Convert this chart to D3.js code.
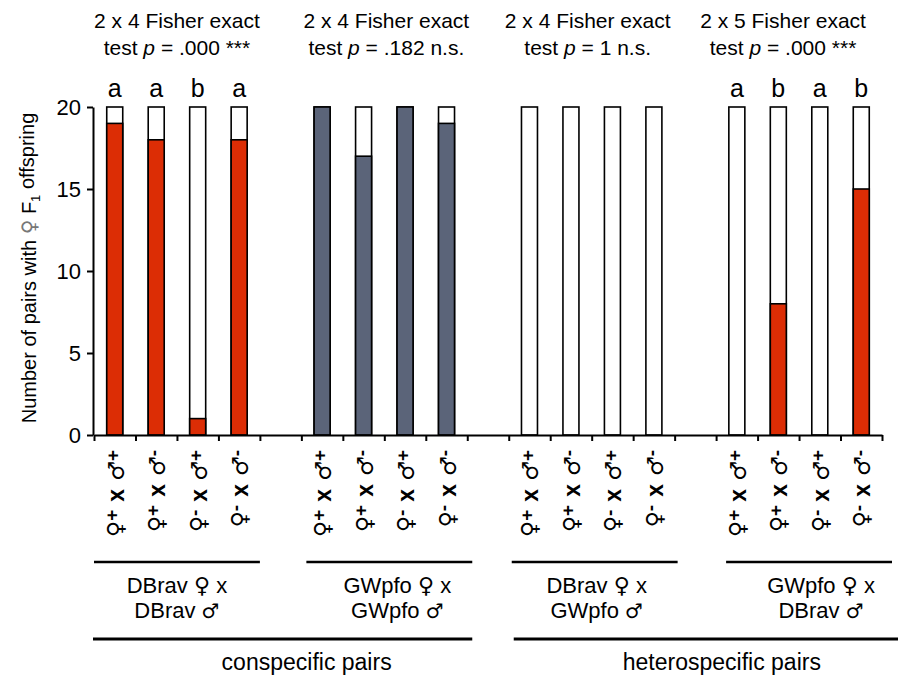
<!DOCTYPE html>
<html>
<head>
  <meta charset="utf-8">
  <title>Pairs with female F1 offspring</title>
  <script src="https://d3js.org/d3.v7.min.js"></script>
  <style>
    body { margin: 0; background: #fff; }
    text { font-family: "Liberation Sans", Arial, "DejaVu Sans", sans-serif; fill: #000; }
    .sym { font-family: "DejaVu Sans", sans-serif; font-weight: normal; }
  </style>
</head>
<body>
<script>
// data
var femaleStrain = ["DBrav", "GWpfo", "DBrav", "GWpfo"];
var maleStrain = ["DBrav", "GWpfo", "GWpfo", "DBrav"];
var testSize = ["2 x 4", "2 x 4", "2 x 4", "2 x 5"];
var testResult = ["=  .000 ***", "= .182 n.s.", "= 1 n.s.", "= .000 ***"];
var letters = [["a", "a", "b", "a"], [], [], ["a", "b", "a", "b"]];
var withFemales = [[19, 18, 1, 18], [20, 17, 20, 19], [0, 0, 0, 0], [0, 8, 0, 15]];
var pairsTested = 20;
var femaleType = ["+", "+", "-", "-"];
var maleType = ["+", "-", "+", "-"];
var groupColor = ["#dc2d05", "#5b6479", "#fff", "#dc2d05"];
var yTicks = [0, 5, 10, 15, 20];

var width = 898, height = 678;
var svg = d3.select("body").append("svg").attr("width", width).attr("height", height);

// 19 slots: 4 bars + 1 gap per group
var x = d3.scaleLinear().domain([0, 19]).range([94, 882]);
var y = d3.scaleLinear().domain([0, 20]).range([435, 107]);
var slot = function(g, i) { return g * 5 + i; };

// y axis
var yAxis = svg.append("g").attr("transform", "translate(93,0)")
  .call(d3.axisLeft(y).tickValues(yTicks).tickSize(6).tickSizeOuter(0).tickPadding(6));
yAxis.selectAll("text").style("font-size", "22px");
yAxis.select(".domain").attr("stroke-width", 2);
yAxis.selectAll(".tick line").attr("stroke-width", 2);

// bars: white frame for all pairs, coloured part for pairs with female offspring
withFemales.forEach(function(vals, g) {
  vals.forEach(function(v, i) {
    var cx = x(slot(g, i) + 0.5);
    svg.append("rect").attr("x", cx - 8).attr("width", 16)
      .attr("y", y(pairsTested)).attr("height", y(0) - y(pairsTested))
      .attr("fill", "#fff").attr("stroke", "#000").attr("stroke-width", 1.6);
    if (v > 0) {
      svg.append("rect").attr("x", cx - 8).attr("width", 16)
        .attr("y", y(v)).attr("height", y(0) - y(v))
        .attr("fill", groupColor[g]).attr("stroke", "#000").attr("stroke-width", 1.6);
    }
    if (letters[g][i]) {
      svg.append("text").attr("x", cx).attr("y", 97).attr("text-anchor", "middle")
        .style("font-size", "25px").text(letters[g][i]);
    }
    // rotated cross label
    var t = svg.append("text")
      .attr("transform", "translate(" + (cx + 8) + ",450) rotate(-90)")
      .attr("text-anchor", "end").style("font-size", "22px");
    t.append("tspan").attr("class", "sym").text("\u2640");
    t.append("tspan").attr("dy", "-0.25em").style("font-weight", "bold").style("font-size", "19px").text(femaleType[i]);
    t.append("tspan").attr("dy", "0.25em").attr("dx", 8).style("font-weight", "bold").style("font-size", "23px").text("x");
    t.append("tspan").attr("dx", 8).attr("class", "sym").text("\u2642");
    t.append("tspan").attr("dy", "-0.25em").style("font-weight", "bold").style("font-size", "19px").text(maleType[i]);
  });
});

// x axis
var xAxis = svg.append("g").attr("transform", "translate(0,435)")
  .call(d3.axisBottom(x).tickValues(d3.range(0, 20)).tickFormat("").tickSize(6).tickSizeOuter(0));
xAxis.select(".domain").attr("stroke-width", 2);
xAxis.selectAll(".tick line").attr("stroke-width", 2);

// test titles and group labels
var titleShift = [0, 2, -4, -16];
var labelShift = [0, 8, 2, 12];
var lineShift = [0, 5, 3, 10];
testSize.forEach(function(s, g) {
  var gx = x(slot(g, 2));
  var tt = svg.append("text").attr("text-anchor", "middle").style("font-size", "21px");
  tt.append("tspan").attr("x", gx + titleShift[g]).attr("y", 28).text(s + " Fisher exact");
  var l2 = tt.append("tspan").attr("x", gx + titleShift[g]).attr("y", 55);
  l2.append("tspan").text("test ");
  l2.append("tspan").style("font-style", "italic").text("p");
  l2.append("tspan").text(" " + testResult[g]);

  var x0 = x(slot(g, 0)) + lineShift[g], x1 = x(slot(g, 4)) + lineShift[g];
  svg.append("line").attr("x1", x0).attr("x2", x1).attr("y1", 562).attr("y2", 562)
    .attr("stroke", "#000").attr("stroke-width", 2.5);
  var lx = (x0 + x1) / 2 + labelShift[g];
  var gl = svg.append("text").attr("text-anchor", "middle").style("font-size", "22px");
  var a = gl.append("tspan").attr("x", lx).attr("y", 593);
  a.append("tspan").text(femaleStrain[g] + " ");
  a.append("tspan").attr("class", "sym").text("\u2640");
  a.append("tspan").text(" x");
  var b = gl.append("tspan").attr("x", lx).attr("y", 618);
  b.append("tspan").text(maleStrain[g] + " ");
  b.append("tspan").attr("class", "sym").style("font-size", "20px").text("\u2642");
});

// pair type brackets
var kinds = [
  { name: "conspecific pairs", x0: x(0) - 1, x1: x(9) + 5, dx: 24 },
  { name: "heterospecific pairs", x0: x(10) + 5, x1: width, dx: 16 }
];
kinds.forEach(function(k) {
  svg.append("line").attr("x1", k.x0).attr("x2", k.x1).attr("y1", 639).attr("y2", 639)
    .attr("stroke", "#000").attr("stroke-width", 3);
  svg.append("text").attr("x", (k.x0 + k.x1) / 2 + k.dx).attr("y", 670)
    .attr("text-anchor", "middle").style("font-size", "23px").text(k.name);
});

// y axis title
var yl = svg.append("text").attr("transform", "translate(36,268) rotate(-90)")
  .attr("text-anchor", "middle").style("font-size", "20px");
yl.append("tspan").text("Number of pairs with ");
yl.append("tspan").attr("class", "sym").style("fill", "#777").text("\u2640");
yl.append("tspan").text(" F");
yl.append("tspan").attr("dy", "0.3em").style("font-size", "13px").text("1");
yl.append("tspan").attr("dy", "-0.3em").text(" offspring");
</script>
</body>
</html>
